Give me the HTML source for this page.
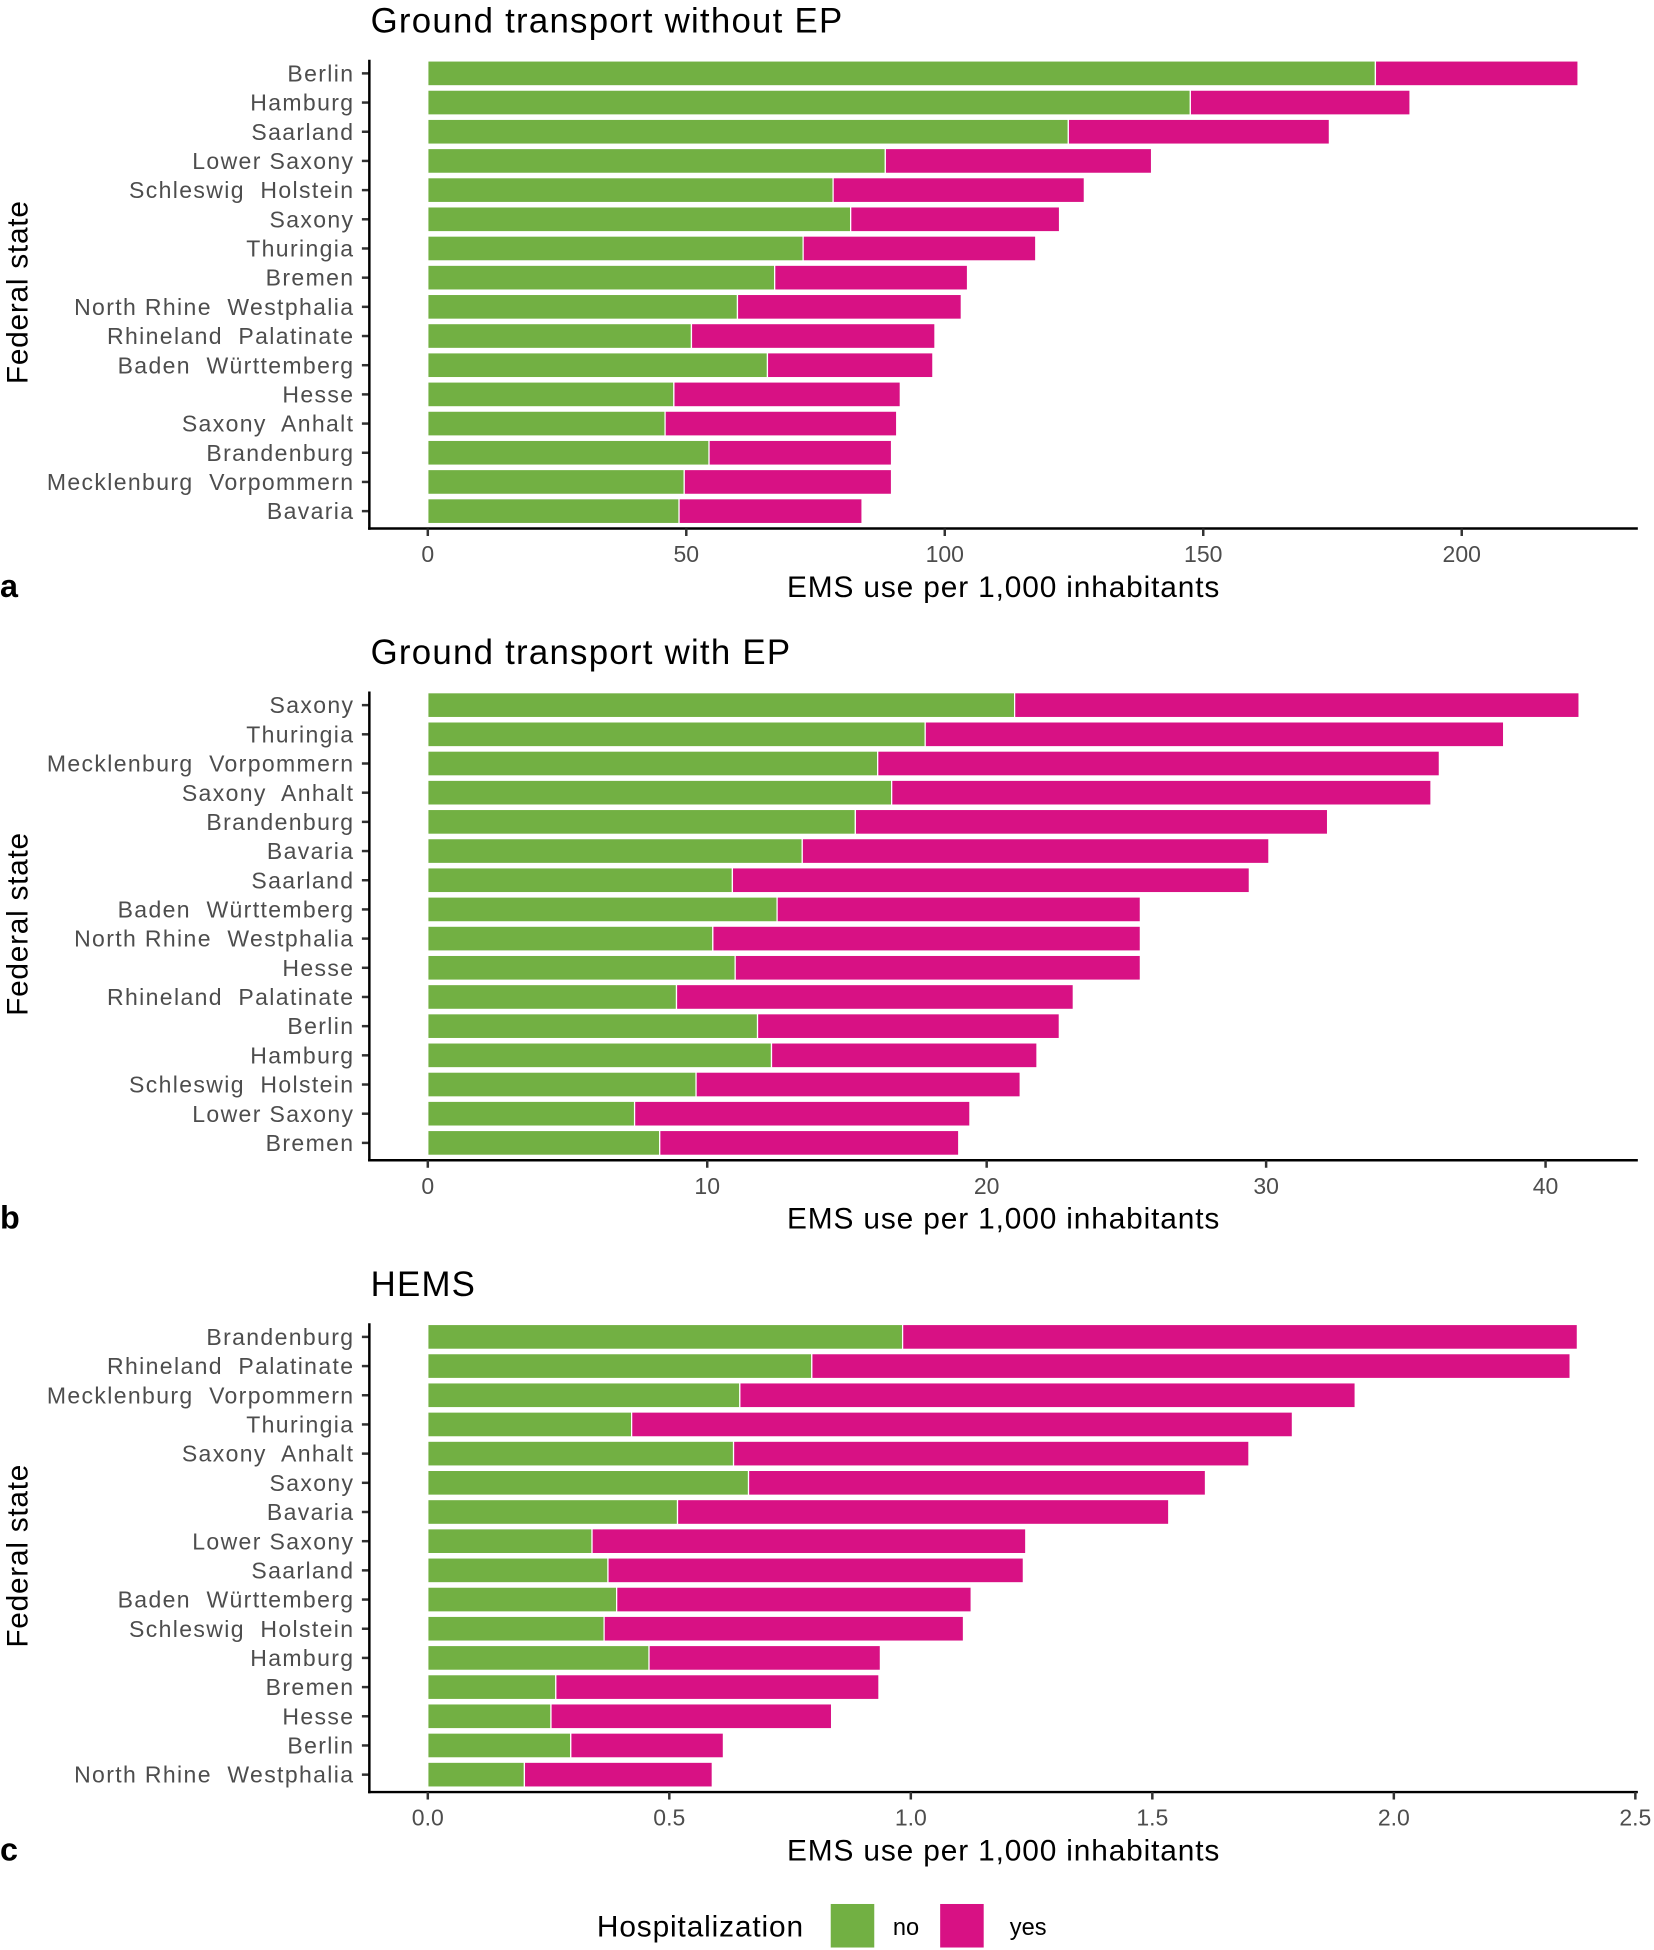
<!DOCTYPE html>
<html><head><meta charset="utf-8"><style>
html,body{margin:0;padding:0;background:#fff;}
svg{display:block;font-family:"Liberation Sans",Arial,sans-serif;}
.lbl{white-space:pre;letter-spacing:1.1px;}
</style></head><body>
<svg id="chart" width="1654" height="1950" viewBox="0 0 1330 1568" preserveAspectRatio="none" xmlns="http://www.w3.org/2000/svg"></svg>
<script>
const NS="http://www.w3.org/2000/svg";
const catsA=["Berlin","Hamburg","Saarland","Lower Saxony","Schleswig  Holstein","Saxony","Thuringia","Bremen","North Rhine  Westphalia","Rhineland  Palatinate","Baden  Württemberg","Hesse","Saxony  Anhalt","Brandenburg","Mecklenburg  Vorpommern","Bavaria"];
const noA=[183.3,147.5,123.9,88.5,78.4,81.8,72.6,67.1,59.9,51,65.7,47.6,45.9,54.4,49.6,48.6];
const totalA=[222.5,190,174.4,140,127,122.2,117.6,104.4,103.2,98.1,97.7,91.4,90.7,89.7,89.7,84];
const ticksA=[0,50,100,150,200];
const tickLabelsA=["0","50","100","150","200"];
const catsB=["Saxony","Thuringia","Mecklenburg  Vorpommern","Saxony  Anhalt","Brandenburg","Bavaria","Saarland","Baden  Württemberg","North Rhine  Westphalia","Hesse","Rhineland  Palatinate","Berlin","Hamburg","Schleswig  Holstein","Lower Saxony","Bremen"];
const noB=[21.0,17.8,16.1,16.6,15.3,13.4,10.9,12.5,10.2,11.0,8.9,11.8,12.3,9.6,7.4,8.3];
const totalB=[41.2,38.5,36.2,35.9,32.2,30.1,29.4,25.5,25.5,25.5,23.1,22.6,21.8,21.2,19.4,19.0];
const ticksB=[0,10,20,30,40];
const tickLabelsB=["0","10","20","30","40"];
const catsC=["Brandenburg","Rhineland  Palatinate","Mecklenburg  Vorpommern","Thuringia","Saxony  Anhalt","Saxony","Bavaria","Lower Saxony","Saarland","Baden  Württemberg","Schleswig  Holstein","Hamburg","Bremen","Hesse","Berlin","North Rhine  Westphalia"];
const noC=[0.983,0.795,0.646,0.422,0.633,0.664,0.517,0.34,0.373,0.391,0.365,0.458,0.265,0.255,0.296,0.2];
const totalC=[2.38,2.365,1.92,1.79,1.70,1.61,1.534,1.238,1.233,1.125,1.109,0.937,0.934,0.836,0.612,0.589];
const ticksC=[0,0.5,1,1.5,2,2.5];
const tickLabelsC=["0.0","0.5","1.0","1.5","2.0","2.5"];

const svg=document.getElementById('chart');
function el(tag,attrs,parent,text){const e=document.createElementNS(NS,tag);for(const k in attrs)e.setAttribute(k,attrs[k]);if(text!==undefined)e.textContent=text;(parent||svg).appendChild(e);return e;}
const GREEN="#72b043",MAG="#d81184";

function panel(key,top,title,letter,cats,no,total,ticks,tickLabels,maxV){
  const g=el('g',{});
  
  
  const x0=344, x1=x0+(ticks.length>5?971:(key==='a'?831.4:898.8));
  const pxPer=(x1-x0)/maxV;
  const xs=v=>x0+v*pxPer;
  const axTop=top+32, axBot=top+409;
  const y0=top+43, step=(top+395-y0)/15;
  const ys=i=>y0+i*step;
  const t=el('text',{x:298,y:top+10,'font-size':28,fill:'#000','letter-spacing':1},g,title);
  
  
  const yt=el('text',{transform:`translate(22,${top+219}) rotate(-90)`,'text-anchor':'middle','font-size':24,fill:'#000','letter-spacing':0.6},g,'Federal state');
  
  
  cats.forEach((c,i)=>{
    const y=ys(i);
    const bn=el('rect',{x:xs(0),y:y-10,width:xs(no[i])-xs(0),height:20,fill:GREEN,stroke:'#fff','stroke-width':1},g);
    
    
    const by=el('rect',{x:xs(no[i]),y:y-10,width:xs(total[i])-xs(no[i]),height:20,fill:MAG,stroke:'#fff','stroke-width':1},g);
    
    
    el('line',{x1:291,x2:297,y1:y,y2:y,stroke:'#333','stroke-width':2},g);
    const lb=el('text',{x:285,y:y+6.5,'text-anchor':'end','font-size':18.5,fill:'#4d4d4d','class':'lbl'},g,c);
    
    
  });
  el('line',{x1:297,x2:297,y1:axTop,y2:axBot+1,stroke:'#000','stroke-width':2},g);
  el('line',{x1:296,x2:1317,y1:axBot,y2:axBot,stroke:'#000','stroke-width':2},g);
  ticks.forEach((v,i)=>{
    const x=xs(v);
    el('line',{x1:x,x2:x,y1:axBot,y2:axBot+6,stroke:'#333','stroke-width':2},g);
    const tl=el('text',{x:x,y:axBot+27,'text-anchor':'middle','font-size':18.5,fill:'#4d4d4d'},g,tickLabels[i]);
    
    
  });
  const xt=el('text',{x:807,y:axBot+55,'text-anchor':'middle','font-size':24,fill:'#000','letter-spacing':0.7},g,'EMS use per 1,000 inhabitants');
  
  
  const lt=el('text',{x:0,y:axBot+55,'font-size':26,'font-weight':'bold',fill:'#000'},g,letter);
  
  
}
panel('a',16,'Ground transport without EP','a',catsA,noA,totalA,ticksA,tickLabelsA,200);
panel('b',524,'Ground transport with EP','b',catsB,noB,totalB,ticksB,tickLabelsB,40);
panel('c',1032,'HEMS','c',catsC,noC,totalC,ticksC,tickLabelsC,2.5);

const lg=el('g',{});


const lt=el('text',{x:480,y:1557,'font-size':24,fill:'#000','letter-spacing':0.7},lg,'Hospitalization');


const k1=el('rect',{x:668,y:1531,width:35,height:35,fill:GREEN},lg);


const t1=el('text',{x:718,y:1556,'font-size':19,fill:'#000'},lg,'no');


const k2=el('rect',{x:756,y:1531,width:35,height:35,fill:MAG},lg);


const t2=el('text',{x:812,y:1556,'font-size':19,fill:'#000'},lg,'yes');


</script>
</body></html>
